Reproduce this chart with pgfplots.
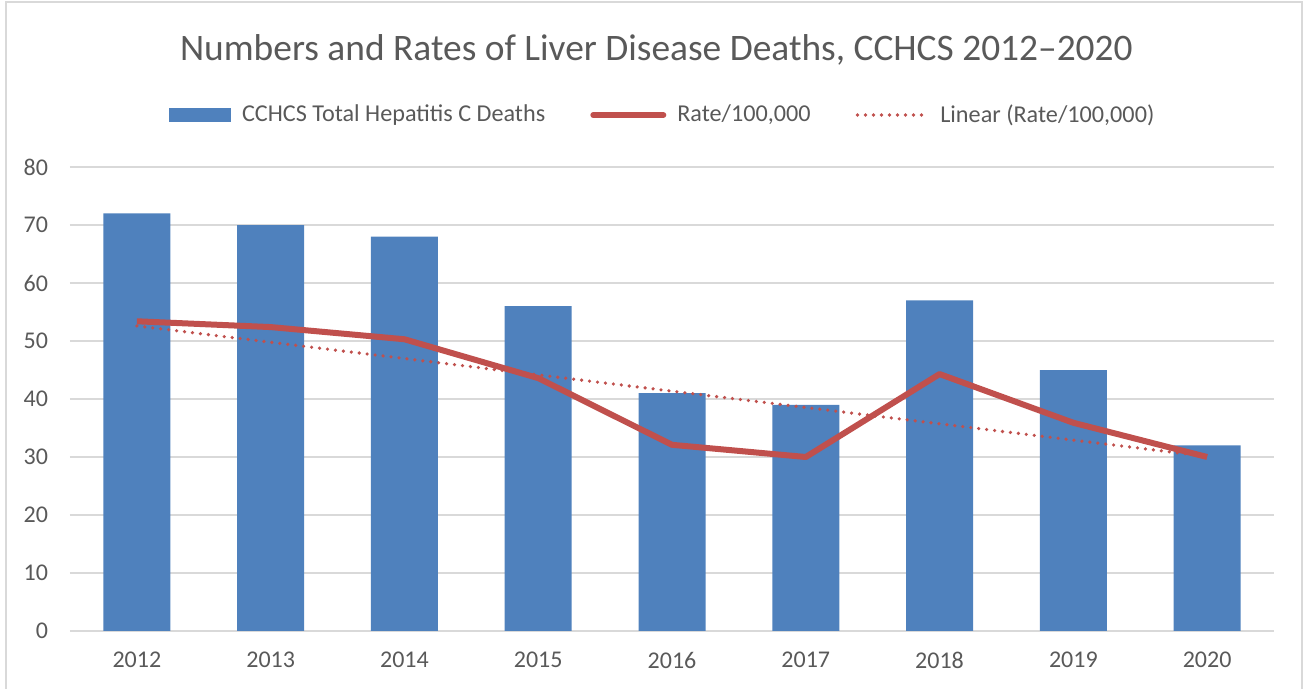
\documentclass[border=0pt]{standalone}
\usepackage{pgfplots}
\pgfplotsset{compat=1.18}
\usepackage{fontspec}
\setmainfont{Carlito}
\definecolor{barblue}{HTML}{4F81BD}
\definecolor{ratered}{HTML}{C0504D}
\definecolor{gridgray}{HTML}{D9D9D9}
\definecolor{textgray}{HTML}{595959}

\begin{document}
\begin{tikzpicture}
\useasboundingbox (-35pt,-29pt) rectangle (617pt,315.5pt);
\draw[gridgray, line width=0.8pt] (-32pt,-40pt) rectangle (616pt,314.5pt);
\begin{axis}[
  scale only axis,
  width=602pt, height=232pt,
  xmin=-0.5, xmax=8.5,
  ymin=0, ymax=80,
  axis line style={draw=none},
  tick style={draw=none},
  ytick={0,10,...,80},
  xtick={0,...,8},
  xticklabels={2012,2013,2014,2015,2016,2017,2018,2019,2020},
  ymajorgrids,
  grid style={gridgray, line width=0.75pt},
  /pgf/number format/assume math mode=true,
  ticklabel style={font=\fontsize{12}{14}\selectfont, text=textgray},
  yticklabel style={xshift=-7.5pt},
  xticklabel style={yshift=-7pt},
  legend columns=3,
  legend style={draw=none, fill=none, at={(0.496,1.112)}, anchor=center,
    font=\fontsize{12.1}{14}\selectfont, text=textgray,
    nodes={inner xsep=5.5pt},
    /tikz/every even column/.append style={column sep=17pt}},
  title={Numbers and Rates of Liver Disease Deaths, CCHCS 2012–2020},
  title style={at={(0.487,1.226)}, anchor=center, font=\fontsize{18.7}{22}\selectfont, text=textgray},
]
\addplot[ybar, bar width=33.5pt, fill=barblue, draw=none,
  legend image code/.code={\fill[barblue] (0pt,-3.5pt) rectangle (31pt,3.5pt);}]
  coordinates {(0,72) (1,70) (2,68) (3,56) (4,41) (5,39) (6,57) (7,45) (8,32)};
\addlegendentry{CCHCS Total Hepatitis C Deaths}
\addplot[ratered, line width=3pt, line join=round,
  legend image code/.code={\draw[ratered, line width=3pt, line cap=round] (0pt,0pt) -- (35pt,0pt);}]
  coordinates {(0,53.4) (1,52.4) (2,50.3) (3,43.6) (4,32.1) (5,30.0) (6,44.3) (7,35.9) (8,30.0)};
\addlegendentry{Rate/100,000}
\addplot[ratered, line width=1.8pt, line cap=round, dash pattern=on 0pt off 4pt,
  legend image code/.code={\draw[ratered, line width=1.8pt, line cap=round, dash pattern=on 0pt off 4pt] (0pt,0pt) -- (35pt,0pt);}]
  coordinates {(0,52.6) (8,30.1)};
\addlegendentry{Linear (Rate/100,000)}
\end{axis}
\end{tikzpicture}
\end{document}
